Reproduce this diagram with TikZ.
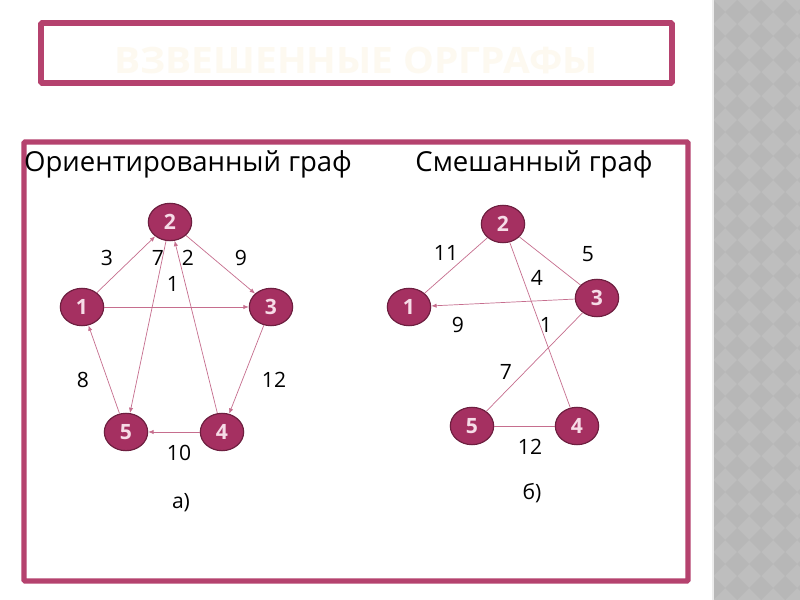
\documentclass[tikz,border=0pt]{standalone}
\usepackage{fontspec}
\setmainfont{Open Sans}
\usetikzlibrary{arrows.meta,shapes.geometric}
\definecolor{frame}{HTML}{B5426E}
\definecolor{vfill}{HTML}{A53061}
\definecolor{vdraw}{HTML}{6E1F40}
\definecolor{vtext}{HTML}{F6DCE7}
\definecolor{edge}{HTML}{C66E8E}
\definecolor{pale}{HTML}{FDF9F0}
\definecolor{strip}{HTML}{BEBEBE}
\definecolor{stripdark}{HTML}{B7B7B7}

\begin{document}
\begin{tikzpicture}[
x=0.03cm, y=-0.03cm,
vertex/.style={ellipse, draw=vdraw, line width=1pt, fill=vfill, minimum width=1.3cm, minimum height=1.12cm, inner sep=0pt, text=vtext, font=\fontsize{18}{18}\selectfont\bfseries},
wt/.style={font=\fontsize{18}{18}\selectfont, inner sep=0pt},
heading/.style={font=\fontsize{23.5}{24}\selectfont, inner sep=0pt, anchor=base},
arc/.style={-{Latex[length=1.6mm,width=1.3mm]}, draw=edge, line width=0.6pt},
link/.style={draw=edge, line width=0.6pt}
]
% background and side strip
\useasboundingbox (0,0) rectangle (800,600);
\fill[white] (0,0) rectangle (800,600);
\fill[strip] (713,0) rectangle (800,600);
\begin{scope}
\clip (713,0) rectangle (800,600);
\foreach \i in {0,...,4}{
  \foreach \j in {0,...,26}{
    \fill[stripdark] (701+24*\i,12+24*\j) -- (713+24*\i,0+24*\j) -- (725+24*\i,12+24*\j) -- (713+24*\i,24+24*\j) -- cycle;
  }
}
\end{scope}
\draw[white!85!gray, line width=1pt] (713,0) -- (713,600);

% frames
\draw[frame, line width=5pt, rounded corners=1pt] (41,23) rectangle (672,83);
\draw[frame, line width=4.5pt, rounded corners=1pt] (24,142) rectangle (688,581);
\node[font=\fontsize{31}{31}\selectfont\bfseries, text=pale, xscale=1.07] (title) at (356,61) {ВЗВЕШЕННЫЕ ОРГРАФЫ};

% headings
\node[heading] (ha) at (188,172) {Ориентированный граф};
\node[heading] (hb) at (534,172) {Смешанный граф};

% graph a
\node[vertex] (a2) at (170,222) {2};
\node[vertex] (a1) at (82,307) {1};
\node[vertex] (a3) at (271,307) {3};
\node[vertex] (a5) at (126,432) {5};
\node[vertex] (a4) at (222,432) {4};
\draw[arc] (a1) -- (a2);
\draw[arc] (a2) -- (a3);
\draw[arc] (a1) -- (a3);
\draw[arc] (a3) -- (a4);
\draw[arc] (a4) -- (a5);
\draw[arc] (a5) -- (a1);
\draw[arc] (a2) -- (a5);
\draw[arc] (a4) -- (a2);
\node[wt] (wa12) at (107,258) {3};
\node[wt] (wa25) at (158,258) {7};
\node[wt] (wa42) at (188,258) {2};
\node[wt] (wa23) at (241,258) {9};
\node[wt] (wa13) at (173,284) {1};
\node[wt] (wa51) at (83,380) {8};
\node[wt] (wa34) at (274,380) {12};
\node[wt] (wa45) at (179,453) {10};
\node[wt] (capa) at (181,503) {а)};

% graph b
\node[vertex] (b2) at (503,224) {2};
\node[vertex] (b1) at (409,307) {1};
\node[vertex] (b3) at (597,298) {3};
\node[vertex] (b5) at (472,426) {5};
\node[vertex] (b4) at (577,426) {4};
\draw[link] (b1) -- (b2);
\draw[link] (b2) -- (b3);
\draw[arc] (b3) -- (b1);
\draw[link] (b2) -- (b4);
\draw[link] (b5) -- (b3);
\draw[link] (b5) -- (b4);
\node[wt] (wb12) at (446,253) {11};
\node[wt] (wb23) at (588,254) {5};
\node[wt] (wb24) at (537,278) {4};
\node[wt] (wb31) at (458,325) {9};
\node[wt] (wb53) at (546,325) {1};
\node[wt] (wb5x) at (506,372) {7};
\node[wt] (wb54) at (530,447) {12};
\node[wt] (capb) at (532,493) {б)};
\end{tikzpicture}
\end{document}
